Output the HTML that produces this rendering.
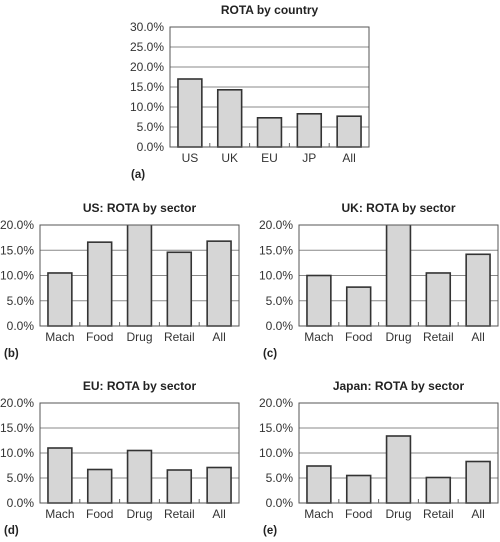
<!DOCTYPE html>
<html><head><meta charset="utf-8"><style>
body{margin:0;background:#fff;}
svg{display:block;font-family:"Liberation Sans",Arial,sans-serif;}
</style></head><body>
<svg id="s" width="500" height="542"></svg>
<script>
const countryCats=["US","UK","EU","JP","All"];
const countryVals=[17.0,14.3,7.3,8.3,7.7];
const countryTicks=[0,5,10,15,20,25,30];
const sectorCats=["Mach","Food","Drug","Retail","All"];
const usVals=[10.5,16.6,25,14.6,16.8];
const ukVals=[10.0,7.7,25,10.5,14.2];
const euVals=[11.0,6.7,10.5,6.6,7.1];
const jpVals=[7.4,5.5,13.4,5.1,8.3];
const sectorTicks=[0,5,10,15,20];

const NS="http://www.w3.org/2000/svg";
const svg=document.getElementById('s');
function mk(tag,attrs,parent){const e=document.createElementNS(NS,tag);for(const k in attrs)e.setAttribute(k,attrs[k]);(parent||svg).appendChild(e);return e;}
let cid=0;
function chart(name,title,letter,cats,vals,ticks,L,T,R,B){
  const g=mk('g',{});
  
  
  const max=ticks[ticks.length-1];
  const y=v=>B-(v/max)*(B-T);
  const slot=(R-L)/cats.length;
  const x=i=>L+slot*i;
  const t=mk('text',{x:(L+R)/2,y:T-13,'text-anchor':'middle','font-size':12,'font-weight':'bold',fill:'#222'},g);
  t.textContent=title;
  
  
  ticks.forEach(v=>{
    const ln=mk('line',{x1:L,x2:R,y1:y(v),y2:y(v),stroke:'#888','stroke-width':1},g);
    
    
    const tl=mk('text',{x:L-6,y:y(v)+4,'text-anchor':'end','font-size':12,fill:'#333'},g);
    tl.textContent=v.toFixed(1)+'%';
    
    
  });
  const id='c'+(cid++);
  const cp=mk('clipPath',{id:id},g);
  mk('rect',{x:L-2,y:T,width:R-L+4,height:B-T+2},cp);
  const bars=mk('g',{'clip-path':'url(#'+id+')'},g);
  const bw=slot*0.6;
  vals.forEach((v,i)=>{
    const r=mk('rect',{x:x(i)+(slot-bw)/2,y:y(v),width:bw,height:B-y(v),fill:'#d6d6d6',stroke:'#333','stroke-width':1.6},bars);
    
    
  });
  mk('rect',{x:L,y:T,width:R-L,height:B-T,fill:'none',stroke:'#555','stroke-width':1},g);
  for(let i=1;i<cats.length;i++){mk('line',{x1:x(i),x2:x(i),y1:B,y2:B-4,stroke:'#666','stroke-width':1},g);}
  cats.forEach((c,i)=>{
    const cl=mk('text',{x:x(i)+slot/2,y:B+15,'text-anchor':'middle','font-size':12,fill:'#333'},g);
    cl.textContent=c;
    
    
  });
  const lt=mk('text',{x:L===170?131:L-36,y:B+31,'font-size':11.5,'font-weight':'bold',fill:'#222'},g);
  lt.textContent=letter;
  
  
}
chart('chart-country','ROTA by country','(a)',countryCats,countryVals,countryTicks,170,27,369,147);
chart('chart-us','US: ROTA by sector','(b)',sectorCats,usVals,sectorTicks,40,225,239,326);
chart('chart-uk','UK: ROTA by sector','(c)',sectorCats,ukVals,sectorTicks,299,225,498,326);
chart('chart-eu','EU: ROTA by sector','(d)',sectorCats,euVals,sectorTicks,40,403,239,503);
chart('chart-japan','Japan: ROTA by sector','(e)',sectorCats,jpVals,sectorTicks,299,403,498,503);
</script>
</body></html>
